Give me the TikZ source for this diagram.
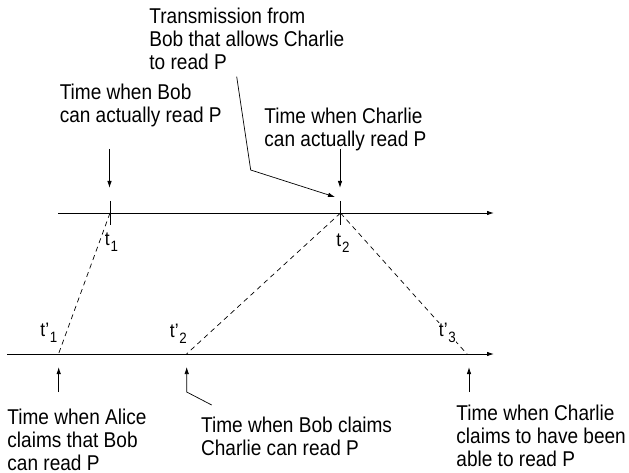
\documentclass[tikz,border=0pt]{standalone}
\usepackage{fontspec}
\setmainfont{Liberation Sans}[FakeStretch=0.89]
\usetikzlibrary{arrows.meta}
% time label with a lowered index
\newcommand\tindex[2]{#1\kern0.8pt\raisebox{-5.5pt}{\fontsize{15}{15}\selectfont #2}}
\begin{document}
\begin{tikzpicture}[x=1pt,y=-1pt,line width=0.9pt,
  tip/.style={-{Latex[length=7pt,width=4.5pt]}},
  % multi-line notes are anchored at the baseline of their last line
  note/.style={anchor=base west,inner sep=0pt,align=left,font=\fontsize{21.4}{23}\selectfont},
  tlabel/.style={anchor=base west,inner sep=0.5pt,fill=white,font=\fontsize{19.5}{19.5}\selectfont},
  link/.style={line width=0.7pt,dash pattern=on 5pt off 4pt}]
\useasboundingbox (0,0) rectangle (629,473);

% the two time lines
\coordinate (top0) at (58,213);
\coordinate (top1) at (494,213);
\coordinate (bot0) at (7,354);
\coordinate (bot1) at (494,354);
\draw[tip] (top0) -- (top1);
\draw[tip] (bot0) -- (bot1);

% instants on the upper line, with their ticks
\coordinate (t1) at (110,213);
\coordinate (t2) at (340.5,213);
\coordinate (t1up) at (110,201);
\coordinate (t1dn) at (110,225);
\coordinate (t2up) at (340.5,201);
\coordinate (t2dn) at (340.5,225);
\draw (t1up) -- (t1dn);
\draw (t2up) -- (t2dn);

% instants on the lower line
\coordinate (s1) at (58.5,354);
\coordinate (s2) at (186.5,354);
\coordinate (s3) at (467,354);

% dashed correspondences
\draw[link] (t1) -- (s1);
\draw[link] (t2) -- (s2);
\draw[link] (t2) -- (s3);

% tick labels
\node[tlabel] (lt1) at (104,245.7) {\tindex{t}{1}};
\node[tlabel] (lt2) at (335.5,246.7) {\tindex{t}{2}};
\node[tlabel] (ls1) at (39.5,336.7) {\tindex{t'}{1}};
\node[tlabel] (ls2) at (169,337.7) {\tindex{t'}{2}};
\node[tlabel] (ls3) at (438,336.7) {\tindex{t'}{3}};

% annotations above
\node[note] (trans) at (149,70) {Transmission from\\Bob that allows Charlie\\to read P};
\node[note] (bobread) at (59.3,123) {Time when Bob\\can actually read P};
\node[note] (charread) at (264,147) {Time when Charlie\\can actually read P};

\coordinate (a1s) at (109.5,149);
\coordinate (a1e) at (109.5,188);
\draw[tip] (a1s) -- (a1e);
\coordinate (a2s) at (340,149);
\coordinate (a2e) at (340,188);
\draw[tip] (a2s) -- (a2e);
\coordinate (trs) at (236.7,76.7);
\coordinate (trm) at (250.7,170);
\coordinate (tre) at (335,197);
\draw[tip,line width=0.7pt] (trs) -- (trm) -- (tre);

% annotations below
\node[note] (alice) at (7,470) {Time when Alice\\claims that Bob\\can read P};
\node[note] (bobclaim) at (200.7,455) {Time when Bob claims\\Charlie can read P};
\node[note] (charclaim) at (456,466) {Time when Charlie\\claims to have been\\able to read P};

\coordinate (b1s) at (58.7,392);
\coordinate (b1e) at (58.7,367);
\draw[tip] (b1s) -- (b1e);
\coordinate (b2s) at (211.7,405);
\coordinate (b2m) at (186.7,392);
\coordinate (b2e) at (186.7,367);
\draw[tip,line width=0.7pt] (b2s) -- (b2m) -- (b2e);
\coordinate (b3s) at (469,392);
\coordinate (b3e) at (469,367);
\draw[tip] (b3s) -- (b3e);
\end{tikzpicture}
\end{document}
